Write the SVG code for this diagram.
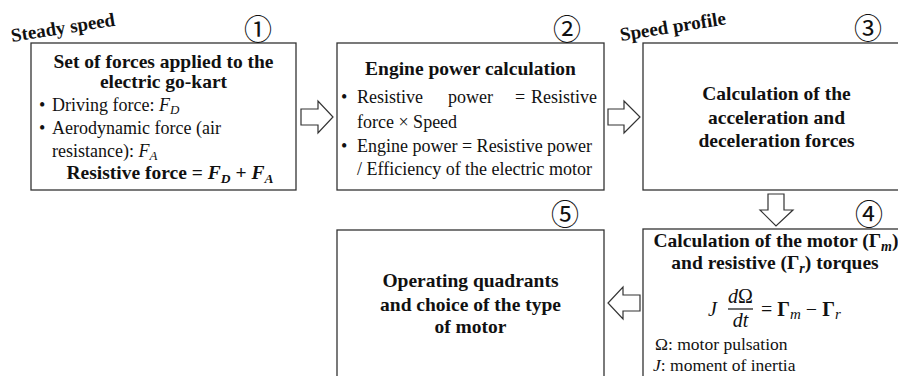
<svg xmlns="http://www.w3.org/2000/svg" width="898" height="376" viewBox="0 0 898 376">
<style>
.box{fill:#fff;stroke:#333;stroke-width:1.3}
.arr{fill:#fff;stroke:#333;stroke-width:1.2;stroke-linejoin:miter}
text{font-family:"Liberation Serif","Times New Roman",serif;fill:#111}
.b{font-weight:bold;font-size:19.5px}
.r{font-size:18px}
.s{font-size:17.5px}
.c{text-anchor:middle}
.i{font-style:italic}
.num{font-family:"Noto Sans CJK JP","DejaVu Sans",sans-serif;font-size:28px;text-anchor:middle;fill:#111}
.lab{font-weight:bold;font-size:19px}
</style>
<rect width="898" height="376" fill="#fff"/>

<g id="labels">
<text class="lab" x="12" y="42" transform="rotate(-9 12 42)">Steady speed</text>
<text class="lab" x="621" y="41" transform="rotate(-9 621 41)">Speed profile</text>
</g>

<g id="node1">
<rect class="box" x="31" y="43" width="265" height="147"/>
<text class="num" x="258" y="40">①</text>
<text class="b c" x="163.5" y="68">Set of forces applied to the</text>
<text class="b c" x="163.5" y="88">electric go-kart</text>
<text class="r" x="39" y="111">•</text>
<text class="r" x="52" y="111">Driving force: <tspan class="i">F</tspan><tspan class="i" font-size="13" dy="3">D</tspan></text>
<text class="r" x="39" y="134">•</text>
<text class="r" x="52" y="134">Aerodynamic force (air</text>
<text class="r" x="52" y="157">resistance): <tspan class="i">F</tspan><tspan class="i" font-size="13" dy="3">A</tspan></text>
<text class="b c" x="170" y="179" font-size="18.5">Resistive force = <tspan class="i">F</tspan><tspan class="i" font-size="13.5" dy="4">D</tspan><tspan dy="-4"> + </tspan><tspan class="i">F</tspan><tspan class="i" font-size="13.5" dy="4">A</tspan></text>
</g>

<g id="node2">
<rect class="box" x="337" y="43" width="267" height="147"/>
<text class="num" x="567" y="40">②</text>
<text class="b c" x="470.5" y="75">Engine power calculation</text>
<text class="r" x="341" y="103">•</text>
<text class="r" x="357" y="103">Resistive</text>
<text class="r" x="448" y="103">power</text>
<text class="r" x="515" y="103">=</text>
<text class="r" x="597" y="103" text-anchor="end">Resistive</text>
<text class="r" x="357" y="128">force × Speed</text>
<text class="r" x="341" y="152">•</text>
<text class="r" x="357" y="152">Engine power = Resistive power</text>
<text class="r" x="357" y="175">/ Efficiency of the electric motor</text>
</g>

<g id="node3">
<rect class="box" x="643" y="43" width="267" height="147"/>
<text class="num" x="868" y="39">③</text>
<text class="b c" x="776.5" y="100">Calculation of the</text>
<text class="b c" x="776.5" y="124">acceleration and</text>
<text class="b c" x="776.5" y="147">deceleration forces</text>
</g>

<g id="node4">
<rect class="box" x="643" y="229" width="267" height="160"/>
<text class="num" x="869" y="225">④</text>
<text class="b c" x="776" y="247">Calculation of the motor (Γ<tspan class="i" font-size="14" dy="4">m</tspan><tspan dy="-4">)</tspan></text>
<text class="b c" x="775" y="269">and resistive (Γ<tspan class="i" font-size="14" dy="4">r</tspan><tspan dy="-4">) torques</tspan></text>
<text class="i" x="708" y="316" font-size="20">J</text>
<text class="c" x="740.5" y="303" font-size="20"><tspan class="i">d</tspan>Ω</text>
<line x1="728" y1="309" x2="753" y2="309" stroke="#111" stroke-width="1.2"/>
<text class="c i" x="740.5" y="327" font-size="20">dt</text>
<text x="761" y="316" font-size="20">= <tspan font-weight="bold">Γ</tspan><tspan class="i" font-size="15" dy="3">m</tspan><tspan dy="-3"> − </tspan><tspan font-weight="bold">Γ</tspan><tspan class="i" font-size="15" dy="3">r</tspan></text>
<text class="s" x="655" y="350">Ω: motor pulsation</text>
<text class="s" x="653" y="371"><tspan class="i">J</tspan>: moment of inertia</text>
</g>

<g id="node5">
<rect class="box" x="337" y="230" width="267" height="160"/>
<text class="num" x="565" y="225">⑤</text>
<text class="b c" x="470.5" y="287">Operating quadrants</text>
<text class="b c" x="470.5" y="311">and choice of the type</text>
<text class="b c" x="470.5" y="333">of motor</text>
</g>

<g id="connectors">
<polygon class="arr" points="301,109 318,109 318,101 333,117 318,133 318,125 301,125"/>
<polygon class="arr" points="608,109 624,109 624,101 640,117 624,133 624,125 608,125"/>
<polygon class="arr" points="768,194 784,194 784,210 793,210 776,226 760,210 768,210"/>
<polygon class="arr" points="640,295 623,295 623,287 608,303 623,319 623,311 640,311"/>
</g>
</svg>
